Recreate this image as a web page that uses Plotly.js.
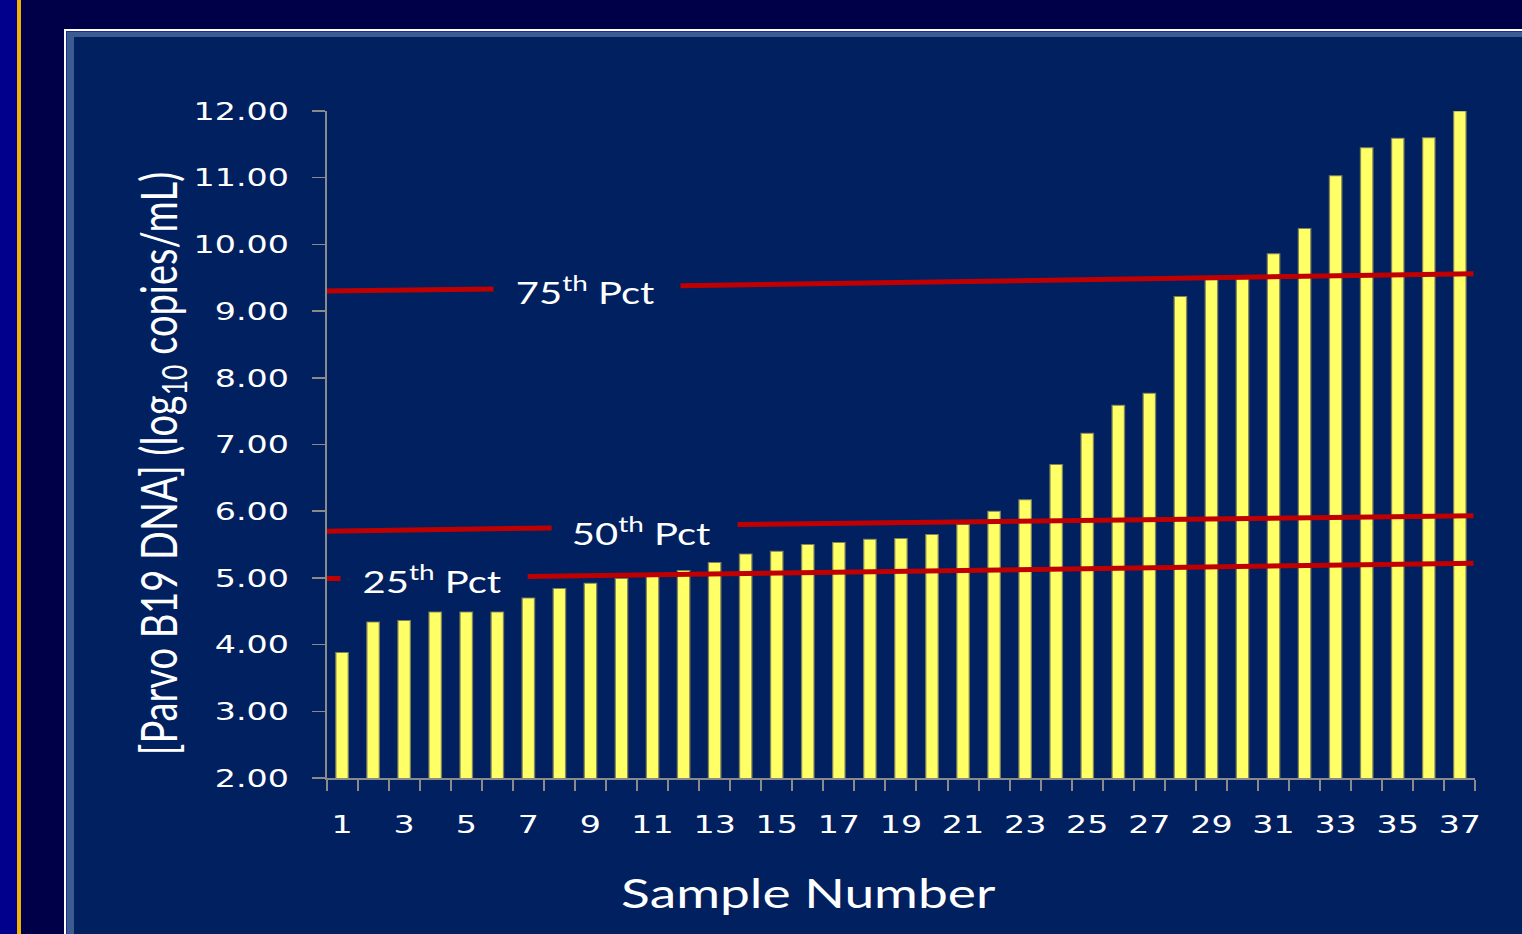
<!DOCTYPE html>
<html>
<head>
<meta charset="utf-8">
<script src="https://cdn.plot.ly/plotly-3.0.1.min.js"></script>
<style>
  html, body { margin: 0; padding: 0; width: 1522px; height: 934px; overflow: hidden; background: #000048; }
  .abs { position: absolute; }
  #chart { position: absolute; left: 0; top: 0; width: 1142px; height: 934px; transform: scaleX(1.33275); transform-origin: 0 0; }
</style>
</head>
<body>
<div class="abs" style="left:0;top:0;width:17px;height:934px;background:#00008c;"></div>
<div class="abs" style="left:17px;top:0;width:4px;height:934px;background:#f0b400;"></div>
<div class="abs" style="left:64px;top:29px;right:0;bottom:0;background:#ffffff;"></div>
<div class="abs" style="left:66px;top:31px;right:0;bottom:0;background:#1a2f9a;"></div>
<div class="abs" style="left:67px;top:32px;right:0;bottom:0;background:#3b5c91;"></div>
<div class="abs" style="left:74px;top:37px;right:0;bottom:0;background:#002060;"></div>
<div id="chart"></div>
<script>
// ---- data ----
const samples = Array.from({length: 37}, (_, i) => i + 1);
const dnaLog10 = [3.88, 4.34, 4.36, 4.49, 4.49, 4.49, 4.70, 4.84, 4.92, 4.99,
                  5.03, 5.11, 5.23, 5.36, 5.40, 5.50, 5.53, 5.58, 5.59, 5.65,
                  5.80, 6.00, 6.17, 6.70, 7.17, 7.59, 7.77, 9.22, 9.47, 9.48,
                  9.86, 10.24, 11.03, 11.45, 11.59, 11.60, 12.00];
const xTickVals = [1,3,5,7,9,11,13,15,17,19,21,23,25,27,29,31,33,35,37];
const xTickText = xTickVals.map(String);
const boundaryTicks = Array.from({length: 38}, (_, i) => i + 0.5);

// percentile reference lines (segments with a gap for the label)
const p75x = [0.37, 5.88, null, 11.90, 37.44];
const p75y = [9.30, 9.33, null, 9.38, 9.56];
const p50x = [0.37, 7.75, null, 13.74, 37.44];
const p50y = [5.70, 5.75, null, 5.80, 5.93];
const p25x = [0.37, 0.95, null, 6.98, 37.44];
const p25y = [4.99, 4.99, null, 5.02, 5.22];

const pctLabels = [
  {text: '75<sup>th</sup> Pct', x: 8.81, y: 9.32},
  {text: '50<sup>th</sup> Pct', x: 10.64, y: 5.70},
  {text: '25<sup>th</sup> Pct', x: 3.88, y: 4.98}
];

const red = '#c00000';
const traces = [
  {type: 'bar', x: samples, y: dnaLog10, width: 0.4,
   marker: {color: '#ffff66', line: {color: 'rgba(130,130,90,0.9)', width: 1}},
   hoverinfo: 'x+y', showlegend: false},
  {type: 'scatter', mode: 'lines', x: p75x, y: p75y, line: {color: red, width: 5}, showlegend: false, cliponaxis: false},
  {type: 'scatter', mode: 'lines', x: p50x, y: p50y, line: {color: red, width: 5}, showlegend: false, cliponaxis: false},
  {type: 'scatter', mode: 'lines', x: p25x, y: p25y, line: {color: red, width: 5}, showlegend: false, cliponaxis: false},
  {type: 'scatter', mode: 'markers', x: [1], y: [2], xaxis: 'x2', yaxis: 'y',
   marker: {opacity: 0}, hoverinfo: 'skip', showlegend: false}
];

const tickFont = {family: 'DejaVu Sans, Verdana, sans-serif', size: 25, color: '#ffffff'};
const labelFont = {family: 'Lato, Calibri, sans-serif', size: 30, color: '#ffffff'};

const annotations = pctLabels.map(p => ({
  text: p.text, x: p.x, y: p.y, xref: 'x', yref: 'y', showarrow: false,
  xanchor: 'center', yanchor: 'middle', font: labelFont
}));
annotations.push({
  text: '[Parvo B19 DNA] (log<sub>10</sub> copies/mL)', xref: 'paper', yref: 'paper',
  x: -0.1445, y: 0.471, textangle: -90, showarrow: false, xanchor: 'center', yanchor: 'middle',
  font: {family: 'Lato, Calibri, sans-serif', size: 38, color: '#ffffff'}
});
annotations.push({
  text: 'Sample Number', xref: 'paper', yref: 'paper', x: 0.419, y: -0.172,
  showarrow: false, xanchor: 'center', yanchor: 'middle',
  font: {family: 'Lato, Calibri, sans-serif', size: 40, color: '#ffffff'}
});

const layout = {
  width: 1142, height: 934,
  margin: {l: 244.6, r: 35.2, t: 111, b: 156},
  paper_bgcolor: 'rgba(0,0,0,0)', plot_bgcolor: 'rgba(0,0,0,0)',
  showlegend: false,
  xaxis: {
    type: 'linear', range: [0.5, 37.5], tickvals: xTickVals, ticktext: xTickText,
    ticks: 'outside', ticklen: 24, tickcolor: 'rgba(0,0,0,0)',
    showgrid: false, zeroline: false, showline: false, tickfont: tickFont,
    fixedrange: true
  },
  xaxis2: {
    type: 'linear', range: [0.5, 37.5], overlaying: 'x', anchor: 'y', side: 'bottom',
    tickvals: boundaryTicks, showticklabels: false,
    ticks: 'outside', ticklen: 11, tickwidth: 1.5, tickcolor: '#8a8a8a',
    showline: true, linecolor: '#8a8a8a', linewidth: 1.5,
    showgrid: false, zeroline: false, fixedrange: true
  },
  yaxis: {
    range: [2, 12], dtick: 1, tick0: 2, tickformat: '.2f',
    ticks: 'outside', ticklen: 9.75, tickwidth: 1.5, tickcolor: '#8a8a8a',
    showline: true, linecolor: '#8a8a8a', linewidth: 1.5,
    showgrid: false, zeroline: false, tickfont: tickFont, ticklabelstandoff: 12,
    fixedrange: true
  },
  annotations: annotations
};

Plotly.newPlot('chart', traces, layout, {displayModeBar: false, staticPlot: true});
</script>
</body>
</html>
